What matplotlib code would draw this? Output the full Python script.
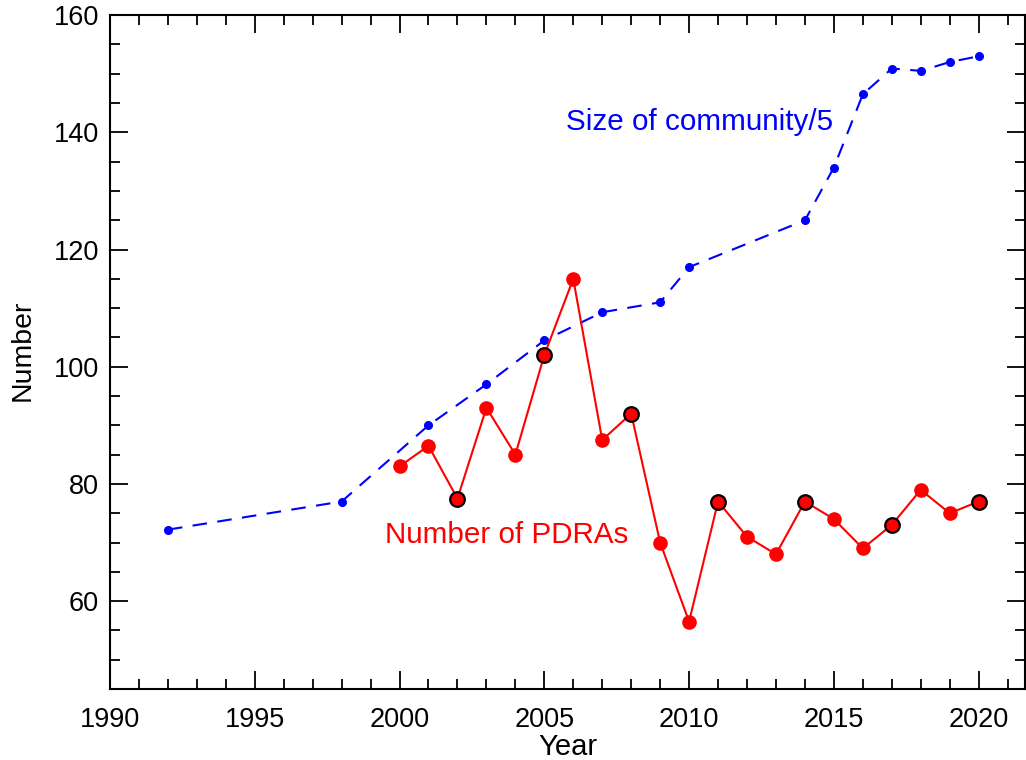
import matplotlib
matplotlib.use('Agg')
import matplotlib.pyplot as plt
from matplotlib.ticker import MultipleLocator

plt.rcParams['font.family'] = ['Liberation Sans', 'DejaVu Sans']

# size of community / 5
comm_years = [1992, 1998, 2001, 2003, 2005, 2007, 2009, 2010, 2014, 2015,
              2016, 2017, 2018, 2019, 2020]
comm_vals = [72.2, 77.0, 90.0, 97.0, 104.5, 109.3, 111.0, 117.0, 125.0, 134.0,
             146.5, 150.9, 150.5, 152.0, 153.0]

# number of PDRAs
pdra_years = list(range(2000, 2021))
pdra_vals = [83.0, 86.5, 77.5, 93.0, 85.0, 102.0, 115.0, 87.5, 92.0, 70.0,
             56.5, 77.0, 71.0, 68.0, 77.0, 74.0, 69.0, 73.0, 79.0, 75.0, 77.0]
# years highlighted with a black outline
ringed_years = [2002, 2005, 2008, 2011, 2014, 2017, 2020]

fig = plt.figure(figsize=(10.26, 7.6), dpi=100)
ax = fig.add_axes([0.1072, 0.0934, 0.8918, 0.8866])

ax.plot(comm_years, comm_vals, color='blue', lw=1.5, dashes=(7, 5),
        marker='o', ms=5.5, mec='blue', mfc='blue')

ax.plot(pdra_years, pdra_vals, color='red', lw=1.5,
        marker='o', ms=9.5, mec='red', mfc='red')
ringed_vals = [pdra_vals[pdra_years.index(y)] for y in ringed_years]
ax.plot(ringed_years, ringed_vals, ls='none', marker='o', ms=10.5,
        mfc='red', mec='black', mew=1.6)

ax.text(2005.75, 141.7, 'Size of community/5', color='blue', fontsize=21.3,
        va='center', ha='left')
ax.text(1999.5, 71.3, 'Number of PDRAs', color='red', fontsize=21.3,
        va='center', ha='left')

ax.set_xlim(1990, 2021.6)
ax.set_ylim(45, 160)
ax.xaxis.set_major_locator(MultipleLocator(5))
ax.xaxis.set_minor_locator(MultipleLocator(1))
ax.yaxis.set_major_locator(MultipleLocator(20))
ax.yaxis.set_minor_locator(MultipleLocator(5))
ax.tick_params(which='both', direction='in', top=True, right=True,
               labelsize=19.5, width=1.3, colors='black')
ax.tick_params(which='major', length=13, pad=8)
ax.tick_params(axis='x', which='major', pad=13)
ax.tick_params(which='minor', length=7)
ax.set_yticks([60, 80, 100, 120, 140, 160])
for s in ax.spines.values():
    s.set_linewidth(1.5)

ax.set_xlabel('Year', fontsize=21, labelpad=0)
ax.set_ylabel('Number', fontsize=20.5, va='center')
ax.yaxis.set_label_coords(-0.096, 0.503)

fig.savefig('out.png', dpi=100)
